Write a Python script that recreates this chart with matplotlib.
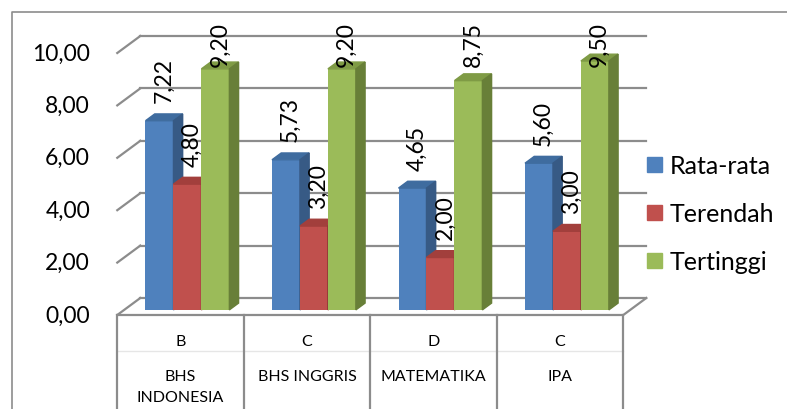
import numpy as np
import matplotlib.pyplot as plt
from matplotlib.patches import Polygon, Rectangle
from matplotlib.lines import Line2D

plt.rcParams['font.family'] = ['Lato', 'DejaVu Sans']

# data
subjects = ['BHS\nINDONESIA', 'BHS INGGRIS', 'MATEMATIKA', 'IPA']
grades = ['B', 'C', 'D', 'C']
series = ['Rata-rata', 'Terendah', 'Tertinggi']
rata_rata = [7.22, 5.73, 4.65, 5.60]
terendah = [4.80, 3.20, 2.00, 3.00]
tertinggi = [9.20, 9.20, 8.75, 9.50]
yticks = [0, 2, 4, 6, 8, 10]

front = ['#4F81BD', '#C0504D', '#9BBB59']
top = ['#3F6C9F', '#A23F3C', '#7F9B45']
side = ['#375A85', '#8E3735', '#687F38']
grid_c = '#8C8C8C'

fig = plt.figure(figsize=(7.87, 4.10), dpi=100)
ax = fig.add_axes([0, 0, 1, 1])
ax.set_xlim(-1.427, 4.794)
ax.set_ylim(-3.588, 12.061)
ax.axis('off')

# oblique depth of the floor / walls
dx, dy = 0.182, 0.649
bw = 0.221
f0, f1 = 0.3, 0.7  # bar depth span

# back wall gridlines and left side diagonals
for v in yticks:
    ax.plot([-0.5 + dx, 3.5 + dx], [v + dy, v + dy], color=grid_c, lw=1.6, zorder=1)
    ax.plot([-0.5, -0.5 + dx], [v, v + dy], color=grid_c, lw=1.6, zorder=1)
# floor outline
ax.plot([-0.5, 3.5, 3.5 + dx], [0, 0, dy], color=grid_c, lw=1.6, zorder=1)

# bars with top and side faces
ox, oy = f0 * dx, f0 * dy
ddx, ddy = (f1 - f0) * dx, (f1 - f0) * dy
x = np.arange(len(subjects))
for s, vals in enumerate([rata_rata, terendah, tertinggi]):
    xs = x + (s - 1) * bw + ox
    ax.bar(xs, vals, bw, bottom=oy, color=front[s], zorder=3 + s)
    for xi, v in zip(xs, vals):
        l, r, h = xi - bw / 2, xi + bw / 2, v + oy
        ax.add_patch(Polygon([(l, h), (r, h), (r + ddx, h + ddy), (l + ddx, h + ddy)],
                             closed=True, color=top[s], zorder=3 + s))
        ax.add_patch(Polygon([(r, oy), (r, h), (r + ddx, h + ddy), (r + ddx, oy + ddy)],
                             closed=True, color=side[s], zorder=3 + s))
        ly = min(h + 0.7, 9.5)
        ax.text(xi + ddx / 2, ly, '{:.2f}'.format(v).replace('.', ','),
                rotation=90, ha='center', va='bottom', fontsize=16.5, zorder=10)

# value axis labels
for v in yticks:
    ax.text(-0.715, v, '{:.2f}'.format(v).replace('.', ','), ha='right', va='center',
            fontsize=16.5)

# category table below the floor
for b in np.arange(-0.5, 4.0, 1.0):
    ax.plot([b, b], [0, -3.7], color=grid_c, lw=1.6, zorder=1)
ax.plot([-0.5, 3.5], [-1.37, -1.37], color='#E6E6E6', lw=1, zorder=0)
for i in x:
    ax.text(i, -0.99, grades[i], ha='center', va='center', fontsize=11.5)
    ax.text(i, -2.08, subjects[i], ha='center', va='top', fontsize=11.5,
            linespacing=1.6)

# legend
handles = [Rectangle((0, 0), 1, 1, color=c) for c in front]
ax.legend(handles, series, loc='center left', bbox_to_anchor=(0.822, 0.476),
          frameon=False, fontsize=18, handlelength=0.6, handleheight=0.6,
          handletextpad=0.3, labelspacing=1.0, borderpad=0, borderaxespad=0)

# chart border
fig.add_artist(Line2D([0.0153, 0.0153, 1.0], [0, 0.968, 0.968], color='#8C8C8C', lw=1.2))

fig.savefig('out.png', dpi=100)
